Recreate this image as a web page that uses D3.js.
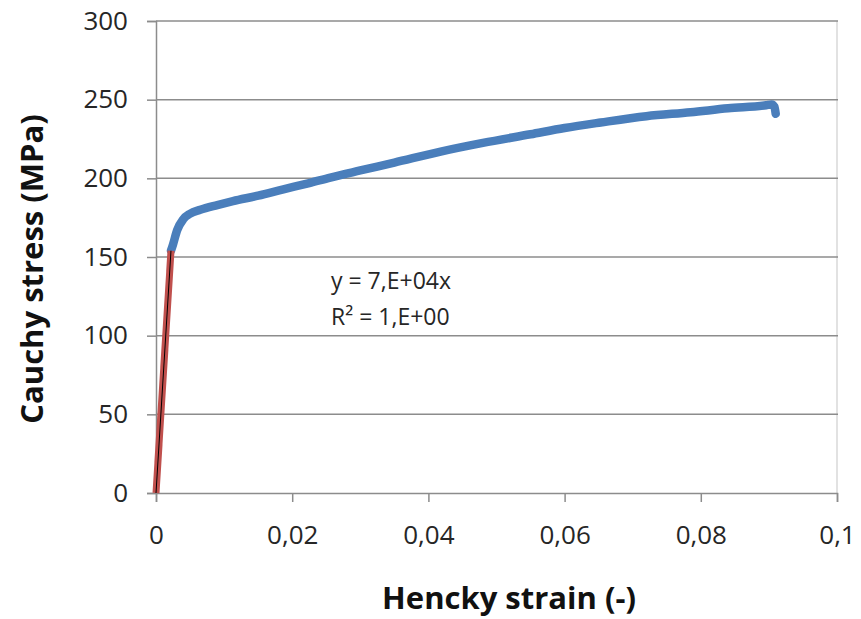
<!DOCTYPE html>
<html><head><meta charset="utf-8">
<script src="https://cdn.jsdelivr.net/npm/d3@7"></script>
<style>body{margin:0;background:#fff}svg{display:block}text{font-family:"Open Sans",sans-serif}</style>
</head><body><svg id="c" width="861" height="619"></svg>
<script>
// Data
const strain = [0.0022, 0.0025, 0.0031, 0.004, 0.005, 0.0065, 0.009, 0.0113, 0.015, 0.0187, 0.0225, 0.0256, 0.03, 0.035, 0.0418, 0.048, 0.055, 0.06, 0.0653, 0.072, 0.0785, 0.084, 0.0896, 0.0904, 0.0908, 0.091];
const stress = [154, 158, 167, 174, 177.5, 180, 183, 185.5, 189, 193, 197, 200.5, 205, 210, 217, 222.5, 228, 232, 235.5, 239.5, 242, 244.5, 246.5, 247, 245.5, 241];
const elasticStrain = [0, 0.0022];
const elasticStress = [0, 154];
const fitSlope = 7e4;
const xTicks = [0, 0.02, 0.04, 0.06, 0.08, 0.1];
const xTickLabels = ["0", "0,02", "0,04", "0,06", "0,08", "0,1"];
const yTicks = [0, 50, 100, 150, 200, 250, 300];
const fitLabels = ["y = 7,E+04x", "R\u00B2 = 1,E+00"];
const xTitle = "Hencky strain (-)";
const yTitle = "Cauchy stress (MPa)";

const svg = d3.select("#c");
const x = d3.scaleLinear().domain([0, 0.1]).range([156, 837]);
const y = d3.scaleLinear().domain([0, 300]).range([493, 21]);

// plot-area right border
svg.append("line").attr("x1", x(0.1)).attr("x2", x(0.1)).attr("y1", y(300)).attr("y2", y(0))
  .attr("stroke", "#d9d9d9").attr("stroke-width", 1.5);

// gridlines
svg.append("g").selectAll("line").data(yTicks.filter(d => d > 0)).join("line")
  .attr("x1", x(0)).attr("x2", x(0.1) + 1).attr("y1", d => y(d)).attr("y2", d => y(d))
  .attr("stroke", "#8c8c8c").attr("stroke-width", 1.5);

// y axis
const ya = svg.append("g").attr("transform", `translate(${x(0)},0)`)
  .call(d3.axisLeft(y).tickValues(yTicks).tickSize(9).tickPadding(19));
ya.select(".domain").attr("stroke", "#8c8c8c").attr("stroke-width", 1.5);
ya.selectAll(".tick line").attr("stroke", "#8c8c8c").attr("stroke-width", 1.5);
ya.selectAll(".tick text").attr("font-size", 26).attr("fill", "#262626").attr("font-family", "Open Sans");

// x axis
const xa = svg.append("g").attr("transform", `translate(0,${y(0)})`)
  .call(d3.axisBottom(x).tickValues(xTicks).tickFormat((d, i) => xTickLabels[i]).tickSize(9).tickPadding(24));
xa.select(".domain").attr("stroke", "#8c8c8c").attr("stroke-width", 1.5);
xa.selectAll(".tick line").attr("stroke", "#8c8c8c").attr("stroke-width", 1.5);
xa.selectAll(".tick text").attr("font-size", 26).attr("fill", "#262626").attr("font-family", "Open Sans");

// blue curve
const pts = strain.map((s, i) => [s, stress[i]]);
svg.append("path").datum(pts)
  .attr("d", d3.line().x(d => x(d[0])).y(d => y(d[1])).curve(d3.curveMonotoneX))
  .attr("fill", "none").attr("stroke", "#4a7ebb").attr("stroke-width", 8.5)
  .attr("stroke-linecap", "round").attr("stroke-linejoin", "round");

// red elastic segment
const ep = elasticStrain.map((s, i) => [s, elasticStress[i]]);
svg.append("path").datum(ep)
  .attr("d", d3.line().x(d => x(d[0])).y(d => y(d[1])))
  .attr("fill", "none").attr("stroke", "#c0504d").attr("stroke-width", 7);
// black trendline
svg.append("path").datum(elasticStrain.map(s => [s, fitSlope * s]))
  .attr("d", d3.line().x(d => x(d[0])).y(d => y(d[1])))
  .attr("fill", "none").attr("stroke", "#000").attr("stroke-width", 1);

// fit labels
svg.append("g").selectAll("text").data(fitLabels).join("text")
  .attr("x", 331).attr("y", (d, i) => 289 + i * 36)
  .attr("font-size", 23).attr("fill", "#262626").text(d => d);

// titles
svg.append("text").attr("x", 509).attr("y", 609).attr("text-anchor", "middle")
  .attr("font-size", 31).attr("font-weight", "bold").attr("fill", "#111").text(xTitle);
svg.append("text").attr("transform", "translate(43,269) rotate(-90)").attr("text-anchor", "middle")
  .attr("font-size", 31).attr("font-weight", "bold").attr("fill", "#111").text(yTitle);
</script></body></html>
